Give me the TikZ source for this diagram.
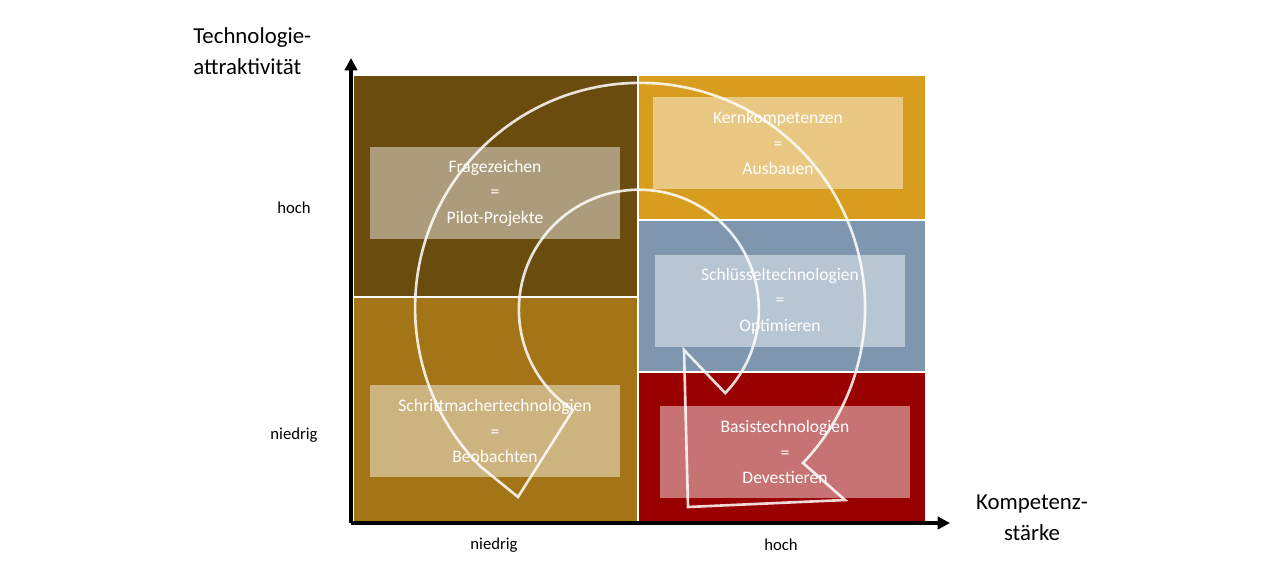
\documentclass[tikz,border=0pt]{standalone}
\usepackage{fontspec}
\setmainfont{Carlito}
\usetikzlibrary{arrows.meta}

\definecolor{fragebraun}{HTML}{6B4C0F}
\definecolor{schrittbraun}{HTML}{A37516}
\definecolor{kerngold}{HTML}{D89C1E}
\definecolor{schluesselblau}{HTML}{7F97AE}
\definecolor{basisrot}{HTML}{990000}

\begin{document}
\begin{tikzpicture}[x=0.02cm,y=-0.02cm,
    panel/.style={draw=white,line width=0.9pt},
    feld/.style={fill=white,fill opacity=0.45,text opacity=1,text=white,align=center,
      minimum width=5cm,minimum height=1.86cm,inner sep=0pt,font=\fontsize{10}{14.5}\selectfont},
    achse/.style={line width=2.2pt,-{Triangle[length=7pt,width=7pt]}},
    skala/.style={font=\fontsize{9.5}{11}\selectfont},
    titel/.style={font=\fontsize{13}{18}\selectfont}]
  \useasboundingbox (0,0) rectangle (1280,573);
  % Felder
  \draw[panel,fill=fragebraun] (353,75) rectangle (638,297);
  \draw[panel,fill=schrittbraun] (353,297) rectangle (638,523);
  \draw[panel,fill=kerngold] (638,75) rectangle (926,220);
  \draw[panel,fill=schluesselblau] (638,220) rectangle (926,372);
  \draw[panel,fill=basisrot] (638,372) rectangle (926,523);
  % Strategien
  \node[feld] (frage) at (495,193) {Fragezeichen\\=\\Pilot-Projekte};
  \node[feld] (schritt) at (495,431) {Schrittmachertechnologien\\=\\Beobachten};
  \node[feld] (kern) at (778,143) {Kernkompetenzen\\=\\Ausbauen};
  \node[feld] (schluessel) at (780,301) {Schlüsseltechnologien\\=\\Optimieren};
  \node[feld] (basis) at (785,452) {Basistechnologien\\=\\Devestieren};
  % Kreislauf
  \draw[white,draw opacity=0.85,line width=1.5pt,line join=miter]
    (845,500) -- (803,463) arc[start angle=43.6,end angle=-225,radius=225]
    -- (518,497) -- (573,410) arc[start angle=-236.7,end angle=44,radius=120]
    -- (684,350) -- (688,507) -- cycle;
  % Achsen
  \coordinate (ursprung) at (351,523);
  \coordinate (yende) at (351,58);
  \coordinate (xende) at (950,523);
  \draw[achse] (ursprung) -- (yende);
  \draw[achse] (ursprung) -- (xende);
  \node[titel,align=left,anchor=north west,inner sep=0pt] (ytitel) at (193,27) {Technologie-\\attraktivität};
  \node[titel,align=center,anchor=north,inner sep=0pt] (xtitel) at (1032,494) {Kompetenz-\\stärke};
  \node[skala] (yhoch) at (294,208) {hoch};
  \node[skala] (yniedrig) at (294,435) {niedrig};
  \node[skala] (xniedrig) at (494,545) {niedrig};
  \node[skala] (xhoch) at (781,545) {hoch};
\end{tikzpicture}
\end{document}
